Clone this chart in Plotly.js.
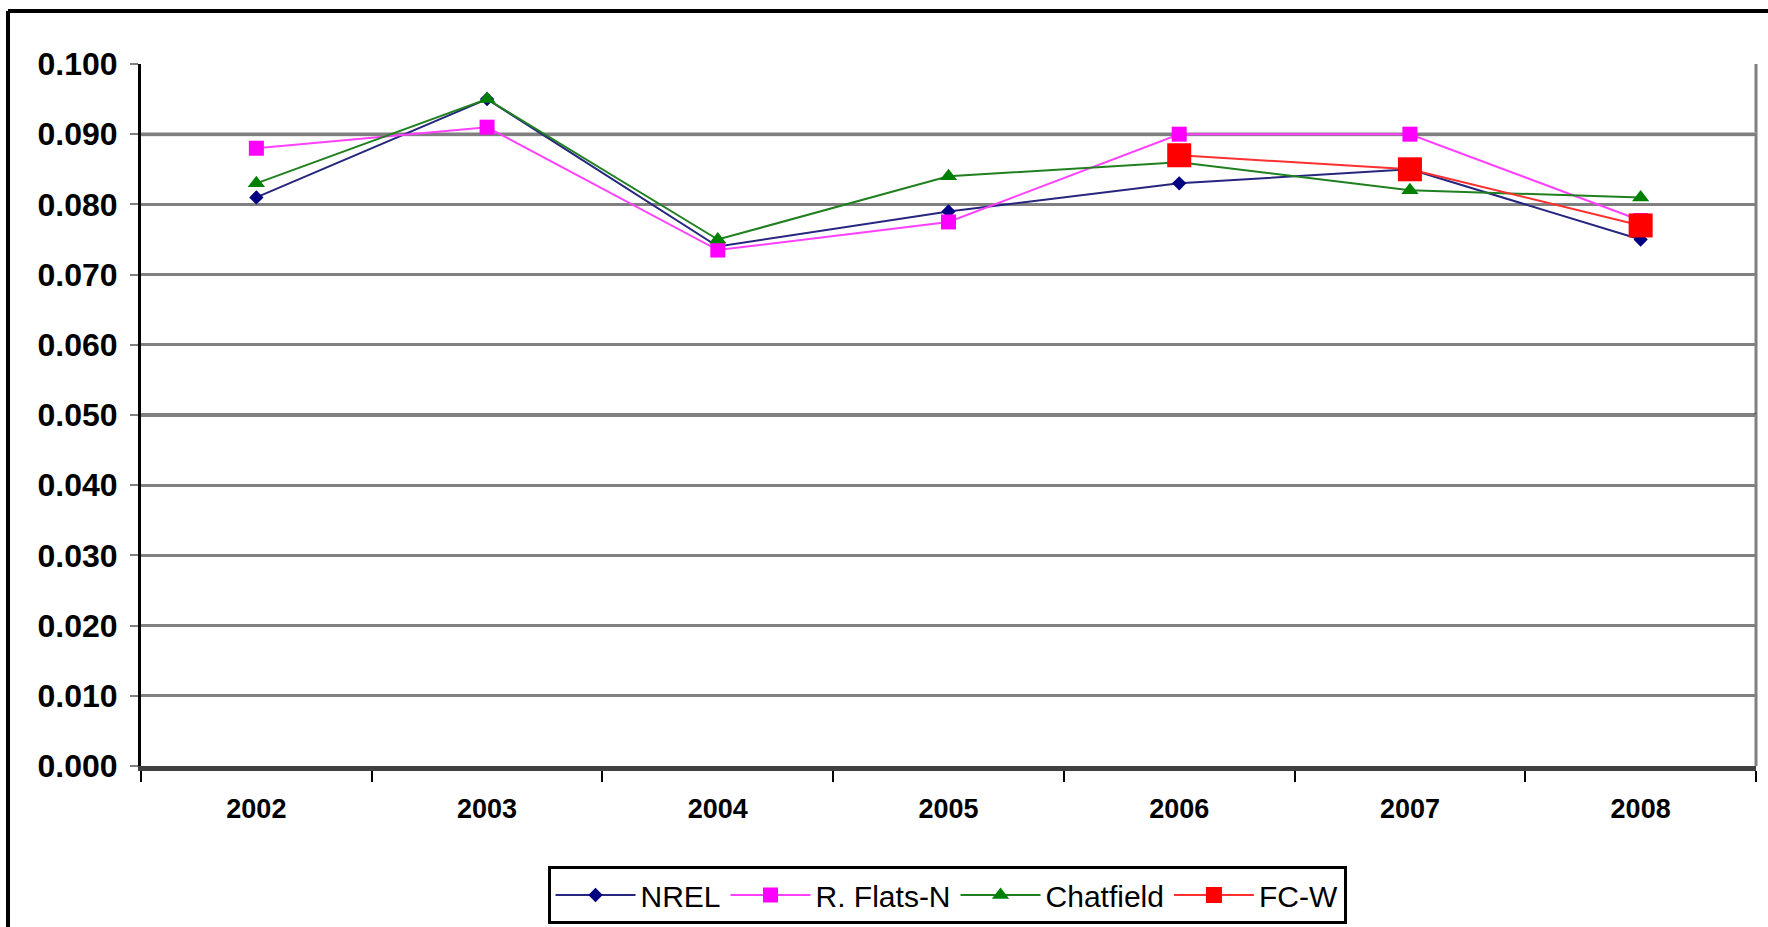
<!DOCTYPE html>
<html>
<head>
<meta charset="utf-8">
<script src="https://cdn.plot.ly/plotly-3.0.1.min.js"></script>
<style>
  html, body { margin: 0; padding: 0; background: #ffffff; }
  #chart { width: 1768px; height: 927px; }
</style>
</head>
<body>
<div id="chart"></div>
<script>
// ---- Data ----
const years = ['2002', '2003', '2004', '2005', '2006', '2007', '2008'];
const nrel = [0.081, 0.095, 0.074, 0.079, 0.083, 0.085, 0.075];
const flatsN = [0.088, 0.091, 0.0735, 0.0775, 0.090, 0.090, 0.0777];
const chatfield = [0.083, 0.095, 0.075, 0.084, 0.086, 0.082, 0.081];
const fcw = [null, null, null, null, 0.087, 0.085, 0.077];
const yTicks = [0, 0.01, 0.02, 0.03, 0.04, 0.05, 0.06, 0.07, 0.08, 0.09, 0.1];
const yTickText = ['0.000', '0.010', '0.020', '0.030', '0.040', '0.050', '0.060', '0.070', '0.080', '0.090', '0.100'];

const W = 1768, H = 927;
const L = 141, R = 12, T = 64, B = 161;
const pw = W - L - R, ph = H - T - B;
const px = v => (v - L) / pw;   // pixel -> paper x
const py = v => (H - B - v) / ph; // pixel -> paper y

const traces = [
  { name: 'NREL', x: years, y: nrel, type: 'scatter', mode: 'lines+markers',
    line: { color: '#26267f', width: 2 },
    marker: { symbol: 'diamond', size: 11, color: '#000080' } },
  { name: 'R. Flats-N', x: years, y: flatsN, type: 'scatter', mode: 'lines+markers',
    line: { color: '#ff40ff', width: 2 },
    marker: { symbol: 'square', size: 15, color: '#ff00ff' } },
  { name: 'Chatfield', x: years, y: chatfield, type: 'scatter', mode: 'lines+markers',
    line: { color: '#208020', width: 2 },
    marker: { symbol: 'triangle-up', size: 15, color: '#008000' } },
  { name: 'FC-W', x: years, y: fcw, type: 'scatter', mode: 'lines+markers',
    line: { color: '#ff3030', width: 2 },
    marker: { symbol: 'square', size: 24, color: '#ff0000' } }
];

const layout = {
  width: W, height: H,
  margin: { l: L, r: R, t: T, b: B, autoexpand: false },
  paper_bgcolor: '#ffffff',
  plot_bgcolor: '#ffffff',
  font: { family: '"Liberation Sans", Arial, sans-serif', color: '#000000' },
  showlegend: true,
  legend: {
    orientation: 'h',
    x: px(947), xanchor: 'center',
    y: py(866), yanchor: 'top',
    bordercolor: '#000000', borderwidth: 3,
    bgcolor: '#ffffff',
    font: { size: 30, color: '#000000' },
    itemwidth: 80,
    tracegroupgap: 0
  },
  xaxis: {
    type: 'category',
    categoryorder: 'array', categoryarray: years,
    range: [-0.5, 6.5],
    tickson: 'boundaries',
    ticks: 'outside', ticklen: 11, tickwidth: 2, tickcolor: '#000000',
    ticklabelstandoff: 15,
    showgrid: false,
    zeroline: false,
    showline: true, linecolor: '#404040', linewidth: 5,
    tickfont: { size: 27, family: '"Liberation Sans", Arial, sans-serif', weight: 'bold', color: '#000000' },
    fixedrange: true
  },
  yaxis: {
    range: [0, 0.1],
    tickvals: yTicks, ticktext: yTickText,
    ticks: 'outside', ticklen: 8, tickwidth: 2, tickcolor: '#808080',
    ticklabelstandoff: 6,
    showgrid: true, gridcolor: '#808080', gridwidth: 3,
    zeroline: false,
    showline: true, linecolor: '#000000', linewidth: 3,
    tickfont: { size: 32, family: '"Liberation Sans", Arial, sans-serif', weight: 'bold', color: '#000000' },
    fixedrange: true
  },
  shapes: [
    // outer chart frame (top and left edges visible)
    { type: 'line', xref: 'paper', yref: 'paper', x0: px(8), x1: px(1780), y0: py(11), y1: py(11),
      line: { color: '#000000', width: 4 } },
    { type: 'line', xref: 'paper', yref: 'paper', x0: px(8), x1: px(8), y0: py(11), y1: py(940),
      line: { color: '#000000', width: 4 } },
    // plot area right border
    { type: 'line', xref: 'paper', yref: 'paper', x0: 1, x1: 1, y0: 0, y1: 1,
      line: { color: '#808080', width: 3 }, layer: 'between' },
    // grid lines that appear darker / lighter in the reference
    { type: 'line', xref: 'paper', yref: 'y', x0: 0, x1: 1, y0: 0.05, y1: 0.05,
      line: { color: '#000000', width: 3 }, layer: 'between' },
    { type: 'line', xref: 'paper', yref: 'y', x0: 0, x1: 1, y0: 0.03, y1: 0.03,
      line: { color: '#000000', width: 3 }, layer: 'between' },
    { type: 'line', xref: 'paper', yref: 'y', x0: 0, x1: 1, y0: 0.09, y1: 0.09,
      line: { color: '#ababab', width: 4 }, layer: 'between' }
  ]
};

Plotly.newPlot('chart', traces, layout, { displayModeBar: false, staticPlot: true });
</script>
</body>
</html>
